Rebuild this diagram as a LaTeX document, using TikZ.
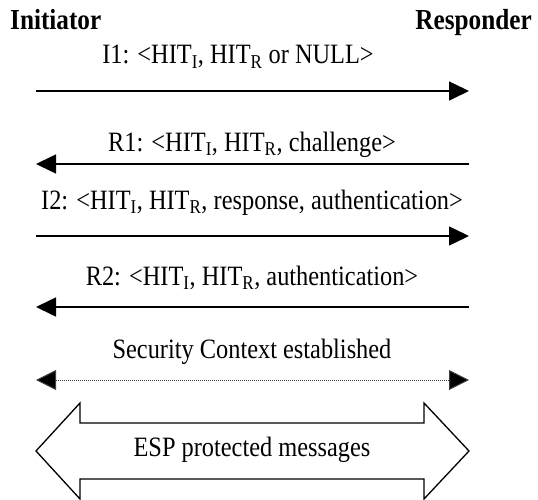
\documentclass[tikz,border=0pt]{standalone}
\usepackage{fontspec}
\setmainfont{Liberation Serif}[FakeStretch=0.87]
\usetikzlibrary{arrows.meta}

\tikzset{
  party/.style={font=\fontsize{29}{32}\selectfont\bfseries, inner sep=0pt},
  msgtext/.style={font=\fontsize{28}{32}\selectfont, inner sep=0pt, anchor=base},
  msg/.style={line width=1.6pt, -{Triangle[length=20pt,width=19pt]}},
  ctx/.style={line width=1pt, dash pattern=on 1pt off 1pt, draw=black!75,
    {Triangle[length=20pt,width=20pt,fill=black]}-{Triangle[length=20pt,width=20pt,fill=black]}},
  bigarrow/.style={draw=black, line width=1.3pt, line join=miter, fill=white}
}
\newcommand{\hiti}{HIT\textsubscript{I}}
\newcommand{\hitr}{HIT\textsubscript{R}}

\begin{document}
\begin{tikzpicture}[x=1pt, y=-1pt]
  \useasboundingbox (0,0) rectangle (538,500);

  % parties
  \node[party, anchor=base west] (ini) at (10,30) {Initiator};
  \node[party, anchor=base east] (res) at (532,30) {Responder};

  % end points of the message lines
  \coordinate (iA) at (36,91);   \coordinate (rA) at (469,91);
  \coordinate (iB) at (36,164);  \coordinate (rB) at (469,164);
  \coordinate (iC) at (36,236);  \coordinate (rC) at (469,236);
  \coordinate (iD) at (36,307);  \coordinate (rD) at (469,307);
  \coordinate (iE) at (36,380);  \coordinate (rE) at (469,380);

  % message labels
  \node[msgtext] (t1) at (238,64)  {I1: <\hiti, \hitr{} or NULL>};
  \node[msgtext] (t2) at (252,151) {R1: <\hiti, \hitr, challenge>};
  \node[msgtext] (t3) at (252,209) {I2: <\hiti, \hitr, response, authentication>};
  \node[msgtext] (t4) at (252,285) {R2: <\hiti, \hitr, authentication>};
  \node[msgtext] (t5) at (252,358) {Security Context established};

  % messages
  \draw[msg] (iA) -- (rA);
  \draw[msg] (rB) -- (iB);
  \draw[msg] (iC) -- (rC);
  \draw[msg] (rD) -- (iD);
  \draw[ctx] (iE) -- (rE);

  % protected channel
  \draw[bigarrow] (36,451) -- (80,403) -- (80,423) -- (424,423) -- (424,403)
    -- (469,451) -- (424,499) -- (424,479) -- (80,479) -- (80,499) -- cycle;
  \node[msgtext] (t6) at (252,456) {ESP protected messages};
\end{tikzpicture}
\end{document}
